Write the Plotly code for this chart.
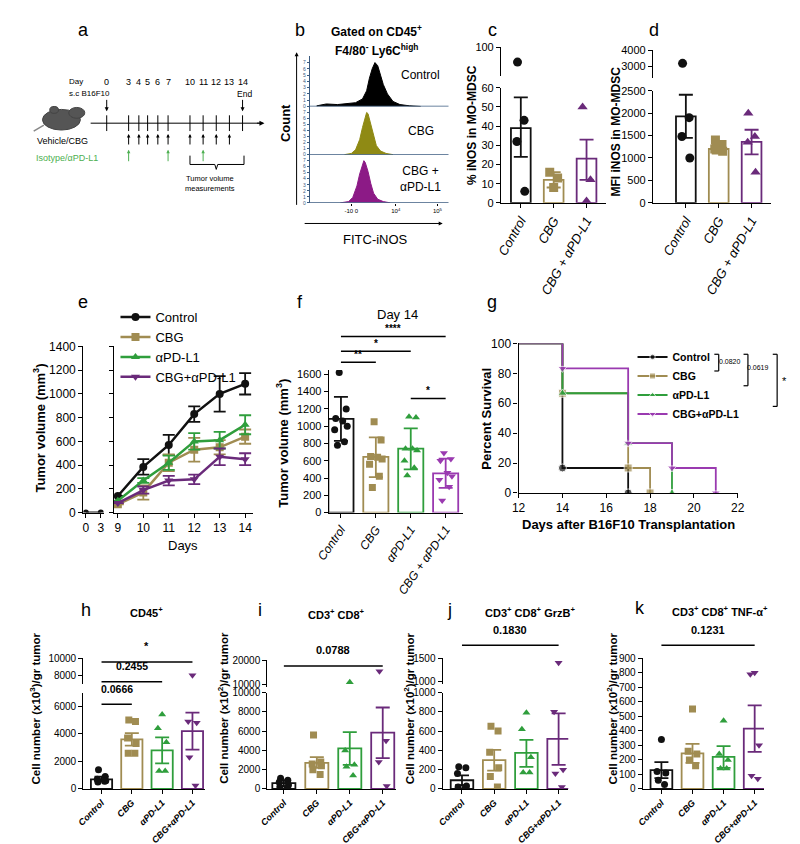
import numpy as np
import plotly.graph_objects as go

W, H = 800, 844
SX = 1.5   # horizontal scale of the sketch grid
FONT = "Liberation Sans, Arial, sans-serif"
BLK = "#111111"
TAN = "#a08c52"
GRN = "#2f9e3c"
PUR = "#6a2a7a"
PUR2 = "#9a3ab0"

# ---------------- data ----------------
# b: histograms (arbitrary fluorescence units 0-100)
b_ctrl_x = [5, 12, 20, 28, 33, 38, 41, 43, 45, 47, 49, 51, 53, 56, 60, 65, 72, 80]
b_ctrl_y = [0.1, 0.4, 0.3, 0.5, 0.6, 1.2, 2.5, 4.5, 6, 7, 6.5, 5, 3.5, 2, 0.8, 0.3, 0.1, 0]
b_cbg_x = [25, 30, 33, 36, 38, 40, 41, 42, 44, 46, 48, 51, 55, 60]
b_cbg_y = [0, 0.2, 0.8, 2.5, 4.5, 6.5, 7, 6.8, 5, 3, 1.5, 0.6, 0.2, 0]
b_combo_x = [22, 28, 31, 34, 36, 38, 39, 40, 42, 44, 46, 49, 53, 58]
b_combo_y = [0, 0.2, 0.9, 2.8, 4.8, 6.6, 7, 6.7, 5.2, 3.2, 1.6, 0.6, 0.2, 0]

# c: % iNOS in MO-MDSC
c_cats = ["Control", "CBG", "CBG + αPD-L1"]
c_mean = [39, 12, 23]
c_lo = [24, 8, 12]
c_hi = [55, 16, 33]
c_pts = [[82, 43, 32, 6], [16, 13, 8], [50, 12, 1]]

# d: MFI iNOS
d_mean = [1930, 1200, 1360]
d_lo = [1450, 1100, 1080]
d_hi = [2410, 1300, 1630]
d_pts = [[3200, 1900, 1480, 1000], [1400, 1300, 1200, 1150], [2000, 1480, 1350, 680]]

# e: tumor growth
e_days_early = [0, 3]
e_vol_early = [0, 0]
e_days = [9, 10, 11, 12, 13, 14]
e_ctrl = [140, 385, 570, 830, 1000, 1085]
e_ctrl_err = [0, 65, 85, 65, 150, 90]
e_cbg = [70, 170, 420, 530, 550, 640]
e_cbg_err = [0, 60, 70, 100, 60, 60]
e_apd = [100, 270, 420, 600, 610, 740]
e_apd_err = [0, 20, 60, 70, 70, 80]
e_combo = [80, 190, 270, 280, 470, 450]
e_combo_err = [0, 30, 40, 40, 70, 50]

# f: day 14
f_cats = ["Control", "CBG", "αPD-L1", "CBG + αPD-L1"]
f_mean = [1085, 645, 740, 455]
f_lo = [830, 410, 500, 285]
f_hi = [1340, 870, 975, 625]
f_pts = [[1620, 1200, 1090, 1060, 1000, 960, 820, 780],
         [1050, 840, 650, 640, 620, 560, 420, 290],
         [1110, 1100, 740, 740, 720, 600, 520, 430],
         [690, 620, 600, 460, 420, 380, 300, 140]]

# g: survival
g_ctrl_t, g_ctrl_s = [12, 14, 17], [100, 16.7, 0]
g_cbg_t, g_cbg_s = [12, 14, 17, 18], [100, 66.7, 16.7, 0]
g_apd_t, g_apd_s = [12, 14, 17, 19], [100, 66.7, 33.3, 0]
g_combo_t, g_combo_s = [12, 14, 17, 19, 21], [100, 83.3, 33.3, 16.7, 0]

# h-k: cell numbers
hk_cats = ["Control", "CBG", "αPD-L1", "CBG+αPD-L1"]
h_mean = [700, 3600, 2800, 4200]
h_lo = [550, 3150, 1850, 2850]
h_hi = [900, 4050, 3750, 5550]
h_pts = [[1400, 900, 700, 600, 500, 550], [5000, 4900, 3700, 3300, 2600, 2600],
         [5400, 4400, 3400, 1300, 1300], [8000, 4900, 4800, 2300, 250]]
i_mean = [600, 2700, 4200, 5850]
i_lo = [300, 2200, 2500, 3200]
i_hi = [900, 3300, 5900, 8450]
i_pts = [[1100, 900, 700, 400, 200, 100], [5600, 2800, 2600, 2400, 2000, 1500],
         [11000, 4000, 2500, 2300, 1400], [15500, 5000, 2800, 300]]
j_mean = [90, 300, 375, 520]
j_lo = [40, 190, 230, 250]
j_hi = [140, 405, 510, 785]
j_pts = [[230, 220, 160, 30, 20, 10], [650, 600, 380, 220, 130, 20],
         [790, 620, 330, 170, 170], [1400, 800, 200, 160, 20]]
k_mean = [130, 245, 220, 415]
k_lo = [75, 180, 145, 255]
k_hi = [185, 310, 295, 575]
k_pts = [[340, 120, 110, 60, 30], [550, 260, 240, 200, 160],
         [470, 240, 200, 140, 140], [800, 790, 300, 90, 70]]

# ---------------- helpers ----------------
fig = go.Figure()
layout = {}
shapes = []
annos = []
naxis = [0]

BASE_AX = dict(showgrid=False, zeroline=False, showline=True, linecolor="black",
               linewidth=1.3, ticks="outside", ticklen=4, tickcolor="black", tickformat="d",
               tickfont=dict(size=11, color="black", family=FONT))


def px(x, y):
    return x * SX / W, 1 - y / H


def new_axes(x0, x1, y0, y1, xo=None, yo=None):
    naxis[0] += 1
    n = naxis[0]
    s = "" if n == 1 else str(n)
    xd = dict(BASE_AX)
    xd.update(domain=[x0 * SX / W, x1 * SX / W], anchor="y" + s)
    xd.update(xo or {})
    yd = dict(BASE_AX)
    yd.update(domain=[1 - y1 / H, 1 - y0 / H], anchor="x" + s)
    yd.update(yo or {})
    layout["xaxis" + s] = xd
    layout["yaxis" + s] = yd
    return "x" + s, "y" + s


def text(x, y, t, size=10, color="black", angle=0, bold=False, xanchor="center"):
    if bold:
        t = "<b>" + t + "</b>"
    xx, yy = px(x, y)
    annos.append(dict(x=xx, y=yy, xref="paper", yref="paper", text=t, showarrow=False,
                      textangle=angle, xanchor=xanchor, yanchor="middle",
                      font=dict(size=size, color=color, family=FONT)))


def pline(x0, y0, x1, y1, color="black", width=1.2):
    a, b = px(x0, y0)
    c, d = px(x1, y1)
    shapes.append(dict(type="line", xref="paper", yref="paper", x0=a, y0=b, x1=c, y1=d,
                       line=dict(color=color, width=width)))


def arrow(x0, y0, x1, y1, color="black", width=1, head=2, size=1):
    xx, yy = px(x1, y1)
    annos.append(dict(x=xx, y=yy, xref="paper", yref="paper", ax=(x0 - x1) * SX, ay=y0 - y1,
                      text="", showarrow=True, arrowhead=head, arrowsize=size,
                      arrowwidth=width, arrowcolor=color))


OFFS = {3: [-0.12, 0.12, 0.0], 4: [-0.1, 0.1, -0.12, 0.12], 5: [0, -0.14, 0.14, -0.1, 0.1],
        6: [-0.1, 0.12, -0.14, 0.14, -0.12, 0.1],
        8: [-0.05, 0.15, -0.15, 0.05, 0.18, -0.18, 0.1, -0.1]}


def bar_panel(x0, x1, xr, lower, upper, cats, means, lo, hi, pts, cols, syms,
              bold=False, bw=0.6, angle=-45, catsize=11, msize=7, tsize=11):
    n = len(cats)
    tt = [("<b><i>%s</i></b>" if bold else "<i>%s</i>") % c for c in cats]
    tf = dict(size=tsize, color="black", family=FONT)
    xa, ya = new_axes(x0, x1, lower["top"], lower["bot"],
                      xo=dict(range=xr, tickvals=list(range(n)), ticktext=tt, tickangle=angle,
                              tickfont=dict(size=catsize, color="black", family=FONT)),
                      yo=dict(range=lower["range"], tickvals=lower["ticks"], tickfont=tf))
    ua = None
    if upper:
        ua = new_axes(x0, x1, upper["top"], upper["bot"],
                      xo=dict(range=xr, visible=False, matches=xa),
                      yo=dict(range=upper["range"], tickvals=upper["ticks"], tickfont=tf))
    top = lower["range"][1]
    for i in range(n):
        c = cols[i]
        fig.add_trace(go.Bar(x=[i], y=[means[i]], width=bw, xaxis=xa, yaxis=ya,
                             marker=dict(color="rgba(255,255,255,0)", line=dict(color=c, width=1.8)),
                             showlegend=False, hoverinfo="skip"))
        fig.add_trace(go.Scatter(x=[i], y=[means[i]], mode="markers", xaxis=xa, yaxis=ya,
                                 marker=dict(size=1, color=c), showlegend=False,
                                 error_y=dict(type="data", symmetric=False, array=[hi[i] - means[i]],
                                              arrayminus=[means[i] - lo[i]], color=c,
                                              thickness=1.8, width=7)))
        p = pts[i]
        offs = OFFS[len(p)]
        lx = [i + o for o, v in zip(offs, p) if v <= top]
        ly = [v for v in p if v <= top]
        fig.add_trace(go.Scatter(x=lx, y=ly, mode="markers", xaxis=xa, yaxis=ya, showlegend=False,
                                 marker=dict(symbol=syms[i], size=msize, color=c)))
        if ua:
            hx = [i + o for o, v in zip(offs, p) if v > top]
            hy = [v for v in p if v > top]
            fig.add_trace(go.Scatter(x=hx, y=hy, mode="markers", xaxis=ua[0], yaxis=ua[1],
                                     showlegend=False, marker=dict(symbol=syms[i], size=msize, color=c)))
    return xa


def sig(xa, i0, i1, y, label, size=10):
    shapes.append(dict(type="line", xref=xa, yref="paper", x0=i0, x1=i1, y0=1 - y / H, y1=1 - y / H,
                       line=dict(color="black", width=1.5)))
    annos.append(dict(x=(i0 + i1) / 2, y=1 - (y - 8) / H, xref=xa, yref="paper", text="<b>%s</b>" % label,
                      showarrow=False, font=dict(size=size, color="black", family=FONT)))


# ---------------- panel letters ----------------
for L, x, y in [("a", 42, 15), ("b", 190, 15), ("c", 322, 15), ("d", 433, 15),
                ("e", 42, 292), ("f", 190, 292), ("g", 322, 292),
                ("h", 44, 605), ("i", 163, 605), ("j", 293, 605), ("k", 423, 603)]:
    text(x, y, L, size=18)

# ---------------- panel a (schematic) ----------------
day_lbl = ["0", "3", "4", "5", "6", "7", "10", "11", "12", "13", "14"]
day_px = [58, 73, 80, 86, 93, 100, 115, 124, 133, 142, 151]
text(37, 68, "Day", size=8)
for d, x in zip(day_lbl, day_px):
    text(x, 68, d, size=9)
    pline(x, 102, x, 118, width=1)
text(46, 80, "s.c B16F10", size=8)
text(152, 80, "End", size=8.5)
pline(47, 110, 163, 110, width=1)
arrow(160, 110, 166, 110, size=1)
arrow(58, 85, 58, 98, size=0.8)
arrow(151, 85, 151, 98, size=0.8)
for x in day_px[1:-1]:
    arrow(x, 133, x, 121, size=0.7)
for x in [73, 100, 124]:
    arrow(x, 150, x, 137, color="#4caf50", size=0.7)
text(28, 128, "Vehicle/CBG", size=9)
text(31, 145, "Isotype/αPD-L1", size=9, color="#4caf50")
shapes.append(dict(type="path", xref="paper", yref="paper",
                   path="M %f %f L %f %f L %f %f L %f %f M %f %f L %f %f L %f %f L %f %f" % (
                       *px(115, 143), *px(115, 152), *px(132, 152), *px(133, 157),
                       *px(133, 157), *px(134, 152), *px(152, 152), *px(152, 143)),
                   line=dict(color="black", width=1)))
text(129, 166, "Tumor volume", size=7.5)
text(129, 176, "measurements", size=7.5)
for sh in [(14, 96, 40, 117), (32, 94, 43, 105), (19, 93, 25, 100)]:
    a, b = px(sh[0], sh[1])
    c, d = px(sh[2], sh[3])
    shapes.append(dict(type="circle", xref="paper", yref="paper", x0=a, y0=b, x1=c, y1=d,
                       fillcolor="#555555", line=dict(color="#444444", width=1)))
pline(15, 112, 8, 118, color="#888888", width=1.5)

# ---------------- panel b ----------------
text(243, 16, "<b>Gated on CD45<sup>+</sup></b>", size=12)
text(243, 36, "<b>F4/80<sup>-</sup> Ly6C<sup>high</sup></b>", size=12)
tracks = [(42, 93, b_ctrl_x, b_ctrl_y, "black", "Control"),
          (93, 142, b_cbg_x, b_cbg_y, "#8f8a14", "CBG"),
          (142, 191, b_combo_x, b_combo_y, "#8c1a86", "CBG +<br>αPD-L1")]
for k, (t0, t1, xs, ys, col, lab) in enumerate(tracks):
    xa, ya = new_axes(197, 292, t0, t1,
                      xo=dict(range=[0, 100], showline=False, ticks="outside" if k == 2 else "",
                              tickvals=[30, 62, 92] if k == 2 else [],
                              ticktext=["-10 0", "10<sup>4</sup>", "10<sup>5</sup>"],
                              tickfont=dict(size=6, color="black"), ticklen=2),
                      yo=dict(range=[0, 8], tickvals=[0, 1, 2, 3, 4, 5, 6, 7], ticklen=2,
                              linecolor="#3b5b80", linewidth=1, tickcolor="#3b5b80",
                              tickfont=dict(size=5, color="#3b5b80")))
    fig.add_trace(go.Scatter(x=xs, y=ys, mode="lines", fill="tozeroy", fillcolor=col,
                             line=dict(color=col, width=1), xaxis=xa, yaxis=ya,
                             showlegend=False))
    shapes.append(dict(type="line", xref=xa + " domain", yref=ya, x0=0, x1=1, y0=0, y1=0,
                       line=dict(color="#3b5b80", width=1.5)))
    text(273, (t0 + t1) / 2 + (-6 if k == 0 else 0), lab, size=12)
arrow(188, 192, 188, 38, size=0.8)
arrow(195, 212, 288, 212, size=0.8)
text(180, 110, "Count", size=13, angle=-90, bold=True)
text(242, 228, "FITC-iNOS", size=13)

# ---------------- panel c ----------------
bar_panel(328, 400, [-0.6, 2.6],
          dict(top=74, bot=191, range=[0, 60], ticks=[0, 10, 20, 30, 40, 50, 60]),
          dict(top=33, bot=62, range=[65, 100], ticks=[100]),
          c_cats, c_mean, c_lo, c_hi, c_pts, [BLK, TAN, PUR],
          ["circle", "square", "triangle-up"], angle=-60, catsize=13, msize=9, tsize=11)
text(308, 112, "% iNOS in MO-MDSC", size=12, angle=-90, bold=True)

# ---------------- panel d ----------------
bar_panel(432, 513, [-1.0, 2.6],
          dict(top=77, bot=191, range=[0, 2500], ticks=[0, 500, 1000, 1500, 2000, 2500]),
          dict(top=36, bot=64, range=[2300, 4000], ticks=[3000, 4000]),
          c_cats, d_mean, d_lo, d_hi, d_pts, [BLK, TAN, PUR],
          ["circle", "square", "triangle-up"], angle=-60, catsize=13, msize=9, tsize=11)
text(407, 118, "MFI iNOS in MO-MDSC", size=12, angle=-90, bold=True)

# ---------------- panel e ----------------
ey = dict(range=[0, 1400], tickvals=list(range(0, 1401, 200)),
          tickfont=dict(size=12, color="black", family=FONT))
xe1, ye1 = new_axes(42, 56, 337, 506, xo=dict(range=[-0.5, 3.6], tickvals=[0, 3],
                                             tickfont=dict(size=12, color="black")), yo=ey)
ey2 = dict(ey)
ey2.update(showticklabels=False)
xe2, ye2 = new_axes(63, 158, 337, 506, xo=dict(range=[8.85, 14.3], tickvals=e_days,
                                               tickfont=dict(size=12, color="black")), yo=ey2)
series = [("Control", e_ctrl, e_ctrl_err, BLK, "circle"),
          ("CBG", e_cbg, e_cbg_err, TAN, "square"),
          ("αPD-L1", e_apd, e_apd_err, GRN, "triangle-up"),
          ("CBG+αPD-L1", e_combo, e_combo_err, PUR, "triangle-down")]
fig.add_trace(go.Scatter(x=e_days_early, y=e_vol_early, mode="lines+markers", xaxis=xe1, yaxis=ye1,
                         line=dict(color=BLK, width=2), marker=dict(size=6, color=BLK),
                         showlegend=False))
for name, v, err, col, sym in series:
    fig.add_trace(go.Scatter(x=e_days, y=v, mode="lines+markers", name=name, xaxis=xe2, yaxis=ye2,
                             line=dict(color=col, width=2.5), marker=dict(symbol=sym, size=8, color=col),
                             error_y=dict(type="data", array=err, color=col, thickness=1.8, width=6),
                             legend="legend"))
text(12, 420, "Tumor volume (mm<sup>3</sup>)", size=13, angle=-90, bold=True)
text(110, 539, "Days", size=13)

# ---------------- panel f ----------------
xf = bar_panel(210, 302, [-0.35, 3.5],
               dict(top=361, bot=506, range=[0, 1650], ticks=list(range(0, 1601, 200))),
               None, f_cats, f_mean, f_lo, f_hi, f_pts, [BLK, TAN, GRN, PUR2],
               ["circle", "square", "triangle-up", "triangle-down"], bw=0.72, angle=-55,
               catsize=12, msize=7, tsize=11)
sig(xf, 0, 3, 327, "****")
sig(xf, 0, 2, 342, "*")
sig(xf, 0, 1, 353, "**")
sig(xf, 2, 3, 390, "*")
text(257, 305, "Day 14", size=13)
text(178, 435, "Tumor volume (mm<sup>3</sup>)", size=13, angle=-90, bold=True)

# ---------------- panel g ----------------
xg, yg = new_axes(340, 490, 334, 486,
                  xo=dict(range=[12, 22], tickvals=list(range(12, 23, 2)),
                          tickfont=dict(size=12, color="black")),
                  yo=dict(range=[0, 100], tickvals=list(range(0, 101, 20)),
                          tickfont=dict(size=12, color="black")))
for name, t, s, col, sym in [("Control", g_ctrl_t, g_ctrl_s, BLK, "circle"),
                             ("CBG", g_cbg_t, g_cbg_s, TAN, "square"),
                             ("αPD-L1", g_apd_t, g_apd_s, GRN, "triangle-up"),
                             ("CBG+αPD-L1", g_combo_t, g_combo_s, PUR2, "triangle-down")]:
    fig.add_trace(go.Scatter(x=t, y=s, mode="lines+markers", line_shape="hv", name="<b>%s</b>" % name,
                             xaxis=xg, yaxis=yg, line=dict(color=col, width=1.8),
                             marker=dict(symbol=sym, color=col, size=[0] + [8] * (len(t) - 1)),
                             legend="legend2"))
text(318, 410, "Percent Survival", size=13, angle=-90, bold=True)
text(415, 518, "Days after B16F10 Transplantation", size=13, bold=True)
pline(474, 345, 477, 345)
pline(477, 345, 477, 362)
pline(474, 362, 477, 362)
text(485, 352, "0.0820", size=7)
pline(494, 345, 497, 345)
pline(497, 345, 497, 377)
pline(494, 377, 497, 377)
text(504, 358, "0.0619", size=7)
pline(514, 345, 517, 345)
pline(517, 345, 517, 398)
pline(514, 398, 517, 398)
text(522, 372, "*", size=11)

# ---------------- panels h-k ----------------
hk_cols = [BLK, TAN, GRN, PUR]
hk_syms = ["circle", "square", "triangle-up", "triangle-down"]
xh = bar_panel(42, 125, [-0.6, 3.4],
               dict(top=689, bot=787, range=[0, 7000], ticks=[0, 2000, 4000, 6000]),
               dict(top=654, bot=680, range=[7000, 10000], ticks=[8000, 10000]),
               hk_cats, h_mean, h_lo, h_hi, h_pts, hk_cols, hk_syms, bold=True, bw=0.7,
               angle=-45, catsize=9, msize=7, tsize=10)
sig(xh, 0, 1, 701, "0.0666", size=10.5)
sig(xh, 0, 2, 678, "0.2455", size=10.5)
sig(xh, 0, 3, 658, "*", size=11)
text(85, 607, "<b>CD45<sup>+</sup></b>", size=11)
text(9, 705, "Cell number (x10<sup>3</sup>)/gr tumor", size=11.5, angle=-90, bold=True)

xi = bar_panel(168, 256, [-0.5, 3.4],
               dict(top=689, bot=787, range=[0, 10000], ticks=[0, 2000, 4000, 6000, 8000, 10000]),
               dict(top=656, bot=683, range=[9200, 20000], ticks=[10000, 20000]),
               hk_cats, i_mean, i_lo, i_hi, i_pts, hk_cols, hk_syms, bold=True, bw=0.7,
               angle=-45, catsize=9, msize=7, tsize=10)
sig(xi, 0, 3, 662, "0.0788", size=11)
text(215, 609, "<b>CD3<sup>+</sup> CD8<sup>+</sup></b>", size=11)
text(138, 705, "Cell number (x10<sup>2</sup>)/gr tumor", size=11.5, angle=-90, bold=True)

xj = bar_panel(288, 374, [-0.6, 3.3],
               dict(top=689, bot=787, range=[0, 1000], ticks=[0, 200, 400, 600, 800, 1000]),
               dict(top=654, bot=680, range=[958, 1500], ticks=[1000, 1500]),
               hk_cats, j_mean, j_lo, j_hi, j_pts, hk_cols, hk_syms, bold=True, bw=0.7,
               angle=-45, catsize=9, msize=7, tsize=10)
sig(xj, 0, 3, 641, "0.1830", size=11)
text(348, 607, "<b>CD3<sup>+</sup> CD8<sup>+</sup> GrzB<sup>+</sup></b>", size=11)
text(265, 705, "Cell number (x10<sup>2</sup>)/gr tumor", size=11.5, angle=-90, bold=True)

xk = bar_panel(425, 508, [-0.6, 3.3],
               dict(top=654, bot=787, range=[0, 900], ticks=list(range(0, 901, 100))),
               None, hk_cats, k_mean, k_lo, k_hi, k_pts, hk_cols, hk_syms, bold=True, bw=0.7,
               angle=-45, catsize=9, msize=7, tsize=10)
sig(xk, 0, 3, 641, "0.1231", size=11)
text(478, 606, "<b>CD3<sup>+</sup> CD8<sup>+</sup> TNF-α<sup>+</sup></b>", size=11)
text(404, 705, "Cell number (x10<sup>2</sup>)/gr tumor", size=11.5, angle=-90, bold=True)

layout.update(
    width=W, height=H, margin=dict(l=0, r=0, t=0, b=0),
    paper_bgcolor="white", plot_bgcolor="white", barmode="overlay",
    font=dict(family=FONT, color="black"),
    shapes=shapes, annotations=annos,
    legend=dict(x=64 * SX / W, y=1 - 292 / H, xanchor="left", yanchor="top", bgcolor="rgba(0,0,0,0)",
                font=dict(size=13, color="black", family=FONT), itemwidth=30, tracegroupgap=0),
    legend2=dict(x=418 * SX / W, y=1 - 333 / H, xanchor="left", yanchor="top", bgcolor="rgba(0,0,0,0)",
                 font=dict(size=10.5, color="black", family=FONT), itemwidth=30),
)
fig.update_layout(**layout)
fig.write_html("out.html")
